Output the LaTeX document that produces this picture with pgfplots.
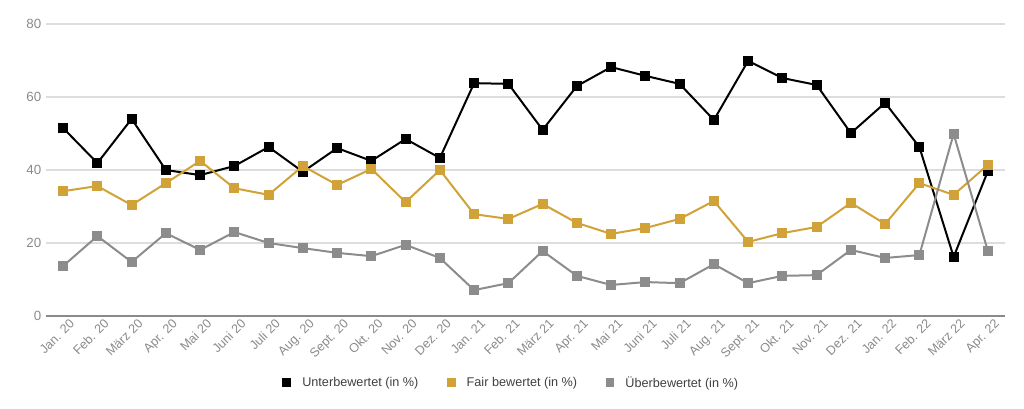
\documentclass[border=0pt]{standalone}
\usepackage{fontspec}
\setmainfont{Liberation Sans}
\usepackage{pgfplots}
\pgfplotsset{compat=1.18}
\definecolor{cblack}{HTML}{000000}
\definecolor{cgold}{HTML}{D1A237}
\definecolor{cgray}{HTML}{8C8C8C}
\definecolor{tickgray}{HTML}{8A8A8A}
\definecolor{gridgray}{HTML}{DDDDDD}
\begin{document}
\begin{tikzpicture}
\useasboundingbox (0,0) rectangle (768pt,306pt);
\begin{axis}[
  at={(34.5pt,69pt)}, anchor=south west,
  scale only axis, width=719.25pt, height=219pt,
  xmin=-0.5, xmax=27.5, ymin=0, ymax=80,
  ytick={0,20,40,60,80},
  xtick={0,...,27},
  xticklabels={Jan. 20,Feb. 20,März 20,Apr. 20,Mai 20,Juni 20,Juli 20,Aug. 20,Sept. 20,Okt. 20,Nov. 20,Dez. 20,Jan. 21,Feb. 21,März 21,Apr. 21,Mai 21,Juni 21,Juli 21,Aug. 21,Sept. 21,Okt. 21,Nov. 21,Dez. 21,Jan. 22,Feb. 22,März 22,Apr. 22},
  x tick label style={rotate=45, anchor=north east, font=\fontsize{9.5}{10}\selectfont, text=tickgray, inner sep=1pt, yshift=-3pt, xshift=3pt},
  y tick label style={font=\fontsize{10}{12}\selectfont, text=tickgray},
  /pgf/number format/assume math mode=true,
  ymajorgrids, grid style={gridgray, line width=0.8pt},
  axis line style={draw=none},
  major tick length=0pt,
  xtick pos=bottom,
  clip=false,
  legend style={at={(0.486,-0.229)}, anchor=center, draw=none, fill=none,
    font=\fontsize{9.5}{10}\selectfont, text=black!75, legend columns=3,
    /tikz/every even column/.append style={column sep=20pt},
    /tikz/every odd column/.append style={column sep=7pt}},
  legend image code/.code={\draw[#1, mark size=2.6pt] plot coordinates {(0.2em,0)};},
  every axis plot/.append style={line width=1.5pt, mark=square*, mark size=3pt, mark options={solid}},
]
\draw[tickgray, line width=1.5pt] (axis cs:-0.5,0) -- (axis cs:27.5,0);
\addplot[cblack, mark options={fill=cblack}] coordinates {
(0,51.5)(1,41.9)(2,54.0)(3,40.0)(4,38.6)(5,41.1)(6,46.3)(7,39.5)(8,46.0)(9,42.5)(10,48.5)(11,43.3)(12,63.8)(13,63.6)(14,51.0)(15,63.0)(16,68.2)(17,65.8)(18,63.6)(19,53.7)(20,69.9)(21,65.2)(22,63.3)(23,50.1)(24,58.4)(25,46.3)(26,16.2)(27,39.7)};
\addlegendentry{Unterbewertet (in \%)}
\addplot[cgold, mark options={fill=cgold}] coordinates {
(0,34.2)(1,35.6)(2,30.4)(3,36.4)(4,42.5)(5,35.0)(6,33.2)(7,41.1)(8,35.9)(9,40.3)(10,31.2)(11,40.0)(12,27.9)(13,26.6)(14,30.7)(15,25.5)(16,22.5)(17,24.1)(18,26.6)(19,31.5)(20,20.3)(21,22.7)(22,24.4)(23,31.0)(24,25.2)(25,36.4)(26,33.2)(27,41.4)};
\addlegendentry{Fair bewertet (in \%)}
\addplot[cgray, mark options={fill=cgray}] coordinates {
(0,13.7)(1,21.9)(2,14.8)(3,22.7)(4,18.1)(5,23.0)(6,20.0)(7,18.6)(8,17.3)(9,16.4)(10,19.5)(11,15.9)(12,7.1)(13,9.0)(14,17.8)(15,11.0)(16,8.5)(17,9.3)(18,9.0)(19,14.2)(20,9.0)(21,11.0)(22,11.2)(23,18.1)(24,15.9)(25,16.7)(26,49.9)(27,17.8)};
\addlegendentry{Überbewertet (in \%)}
\end{axis}
\end{tikzpicture}
\end{document}
